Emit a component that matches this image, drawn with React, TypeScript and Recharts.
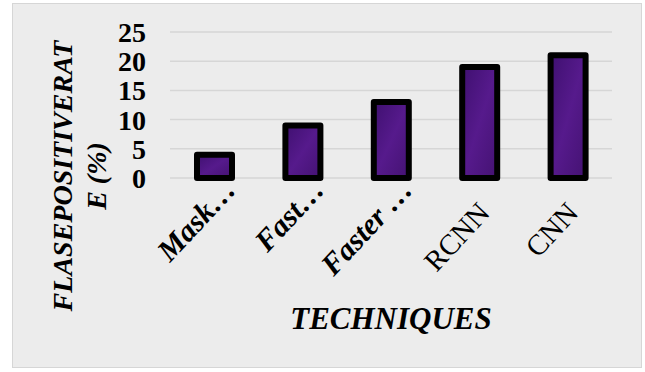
import { BarChart, Bar, XAxis, YAxis, CartesianGrid } from 'recharts'

const techniques = ['Mask…', 'Fast…', 'Faster …', 'RCNN', 'CNN']
const falsePositiveRate = [4, 9, 13, 19, 21]
const yTicks = [0, 5, 10, 15, 20, 25]

const yTitleLines = ['FLASEPOSITIVERAT', 'E (%)']
const xTitle = 'TECHNIQUES'

const data = techniques.map((t, i) => ({ name: t, value: falsePositiveRate[i] }))

const serif = '"Liberation Serif", "DejaVu Serif", serif'

// truncated labels come out bold italic in the original, the short ones plain
function AngledTick(props: any) {
    const { x, y, payload } = props
    const truncated = String(payload.value).endsWith('…')
    const ax = x + (truncated ? 23 : 12)
    const ay = y + (truncated ? 5 : 28)
    return (
        <text
            x={ax}
            y={ay}
            transform={`rotate(-47, ${ax}, ${ay})`}
            textAnchor="end"
            fontFamily={serif}
            fontSize={truncated ? 30 : 29}
            fontWeight={truncated ? 'bold' : 'normal'}
            fontStyle={truncated ? 'italic' : 'normal'}
            fill="#000"
        >
            {payload.value}
        </text>
    )
}

function YTitle(props: any) {
    const vb = props.viewBox || { x: 0, y: 0 }
    const cy = vb.y + 144
    return (
        <g>
            {yTitleLines.map((line, i) => {
                const cx = vb.x + 72 + i * 34
                return (
                    <text
                        key={i}
                        x={cx}
                        y={cy}
                        transform={`rotate(-90, ${cx}, ${cy})`}
                        textAnchor="middle"
                        fontFamily={serif}
                        fontSize={28}
                        fontWeight="bold"
                        fontStyle="italic"
                        fill="#000"
                    >
                        {line}
                    </text>
                )
            })}
        </g>
    )
}

function XTitle(props: any) {
    const vb = props.viewBox || { x: 0, y: 0, width: 0 }
    return (
        <text
            x={vb.x + vb.width / 2}
            y={vb.y + 151}
            textAnchor="middle"
            fontFamily={serif}
            fontSize={31}
            fontWeight="bold"
            fontStyle="italic"
            fill="#000"
        >
            {xTitle}
        </text>
    )
}

export default function App() {
    return (
        <div style={{ position: 'absolute', left: 0, top: 0, width: 645, height: 372, background: '#fff' }}>
            <div
                style={{
                    position: 'absolute',
                    left: 12,
                    top: 3,
                    width: 628,
                    height: 363,
                    background: '#ececec',
                    border: '1px solid #d6d6d6',
                }}
            />
            <div style={{ position: 'absolute', left: 0, top: 0 }}>
                <BarChart
                    width={645}
                    height={372}
                    data={data}
                    margin={{ top: 32, right: 33, bottom: 0, left: 0 }}
                    barSize={35}
                >
                    <defs>
                        <linearGradient id="purpleFill" x1="0" y1="0" x2="1" y2="1">
                            <stop offset="0%" stopColor="#3f1070" />
                            <stop offset="50%" stopColor="#561a8c" />
                            <stop offset="100%" stopColor="#441272" />
                        </linearGradient>
                    </defs>
                    <CartesianGrid vertical={false} stroke="#d6d6d6" strokeWidth={1.5} />
                    <XAxis
                        dataKey="name"
                        height={194}
                        axisLine={false}
                        tickLine={false}
                        interval={0}
                        tick={<AngledTick />}
                        label={<XTitle />}
                    />
                    <YAxis
                        width={170}
                        domain={[0, 25]}
                        ticks={yTicks}
                        axisLine={false}
                        tickLine={false}
                        tickSize={6}
                        tickMargin={18}
                        interval={0}
                        tick={{ fontFamily: serif, fontSize: 28, fontWeight: 'bold', fill: '#000' }}
                        label={<YTitle />}
                    />
                    <Bar
                        dataKey="value"
                        fill="url(#purpleFill)"
                        stroke="#000"
                        strokeWidth={6}
                        strokeLinejoin="round"
                        isAnimationActive={false}
                    />
                </BarChart>
            </div>
        </div>
    )
}
